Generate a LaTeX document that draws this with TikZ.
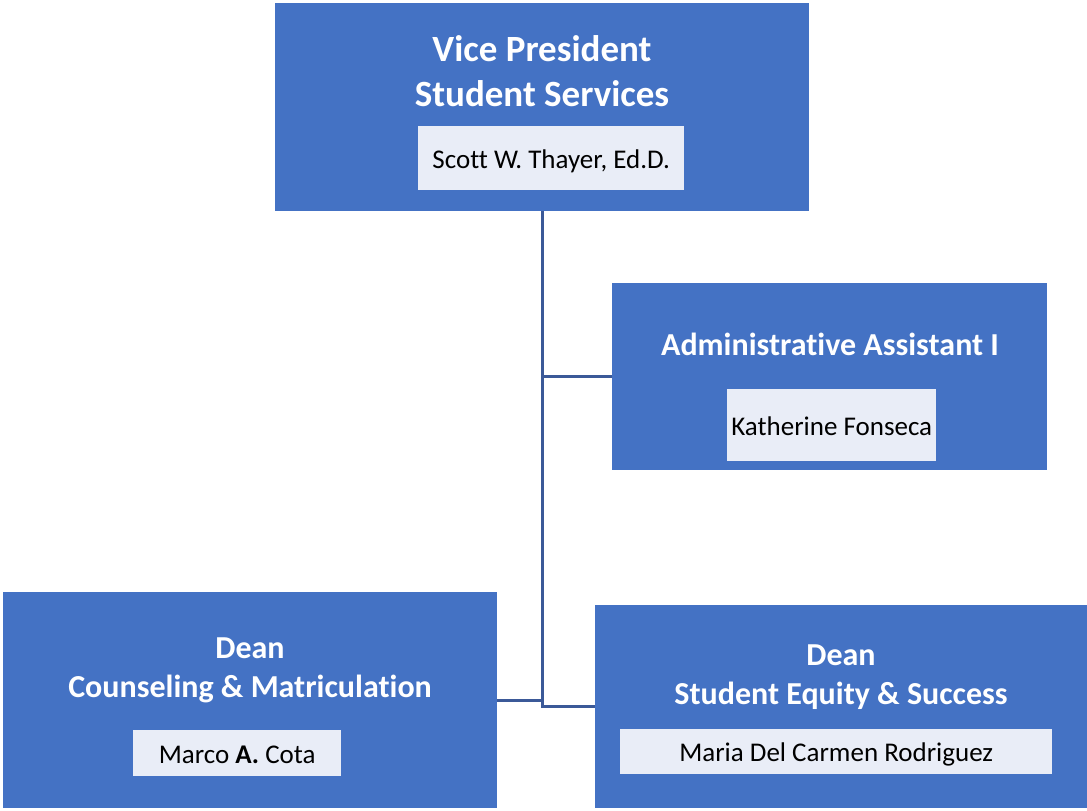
\documentclass[tikz,border=0pt]{standalone}
\usepackage{fontspec}
\setmainfont{Carlito}[Ligatures=NoCommon]
\usepackage{xcolor}
\definecolor{boxblue}{RGB}{68,114,196}
\definecolor{namefill}{RGB}{233,237,247}
\definecolor{linkblue}{RGB}{59,89,152}

\begin{document}
\begin{tikzpicture}[x=1pt, y=-1pt,
  post/.style={fill=boxblue, draw=none, inner sep=0pt, anchor=north west},
  title/.style={text=white, font=\fontsize{32}{39}\selectfont\bfseries, align=center},
  bigtitle/.style={title, font=\fontsize{37}{45}\selectfont\bfseries},
  namebox/.style={fill=namefill, draw=none, inner sep=0pt, anchor=north west, text height=25pt, text depth=5pt, font=\fontsize{27}{32}\selectfont},
  link/.style={linkblue, line width=3pt}]
  \useasboundingbox (0,0) rectangle (1087,811);
  % posts
  \node[post, minimum width=534pt, minimum height=208pt] (vp) at (275,3) {};
  \node[post, minimum width=435pt, minimum height=187pt] (admin) at (612,283) {};
  \node[post, minimum width=494pt, minimum height=216pt] (cm) at (3,592) {};
  \node[post, minimum width=492pt, minimum height=203pt] (ses) at (595,605) {};
  % titles
  \node[bigtitle] (vptitle) at (542,71) {Vice President\\Student Services};
  \node[title] (admintitle) at (830,344) {Administrative Assistant I};
  \node[title] (cmtitle) at (250,670) {Dean\\Counseling \& Matriculation};
  \node[title] (sestitle) at (841,677) {Dean\\Student Equity \& Success};
  % names
  \node[namebox, minimum width=266pt, minimum height=64pt] (vpname) at (418,126) {Scott W. Thayer, Ed.D.};
  \node[namebox, minimum width=209pt, minimum height=72pt] (adminname) at (727,389) {Katherine Fonseca};
  \node[namebox, minimum width=208pt, minimum height=46pt] (cmname) at (133,730) {Marco \textbf{A.} Cota};
  \node[namebox, minimum width=432pt, minimum height=45pt] (sesname) at (620,729) {Maria Del Carmen Rodriguez};
  % connectors
  \draw[link] (vp.south) -- (vp.south |- ses.west) -- (ses.west);
  \draw[link] (vp.south |- admin.west) -- (admin.west);
  \draw[link] (cm.east) -- (cm.east -| vp.south);
\end{tikzpicture}
\end{document}
